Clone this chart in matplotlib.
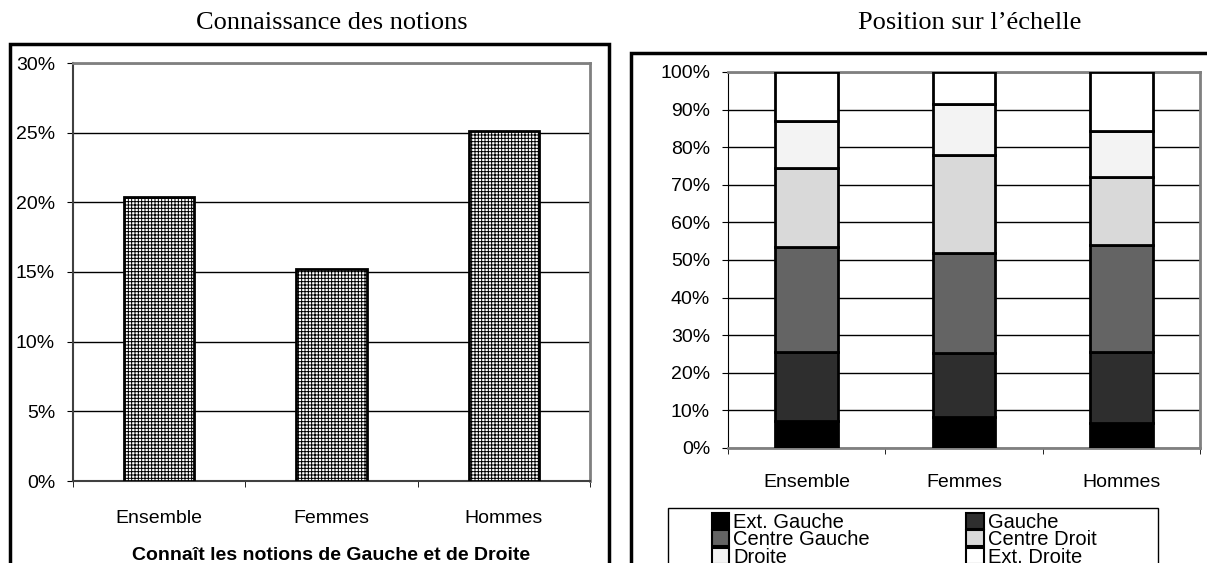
import matplotlib
matplotlib.use("Agg")
import matplotlib.pyplot as plt
from matplotlib.patches import Rectangle, Patch
import numpy as np

W, H = 1207, 563

# --- data ---
categories = ["Ensemble", "Femmes", "Hommes"]
connait = [20.4, 15.2, 25.1]  # % connaissant les notions

seg_labels = ["Ext. Gauche", "Gauche", "Centre Gauche", "Centre Droit", "Droite", "Ext. Droite"]
ext_gauche = [7.1, 8.3, 6.6]
gauche = [18.3, 17.0, 18.9]
centre_gauche = [28.1, 26.6, 28.5]
centre_droit = [21.0, 26.0, 18.1]
droite = [12.5, 13.7, 12.2]
ext_droite = [13.0, 8.4, 15.7]
seg_colors = ["#000000", "#2e2e2e", "#646464", "#d9d9d9", "#f3f3f3", "#ffffff"]

plt.rcParams["font.family"] = ["Liberation Sans", "DejaVu Sans"]
plt.rcParams["hatch.linewidth"] = 0.7

fig = plt.figure(figsize=(W / 100, H / 100), dpi=100)


def fx(px):
    return px / W


def fy(py):
    return 1 - py / H


# outer frames
fig.add_artist(Rectangle((fx(10), -0.1), fx(609) - fx(10), fy(44) + 0.1,
                         transform=fig.transFigure, fill=False, lw=2.5, ec="black"))
fig.add_artist(Rectangle((fx(631), -0.1), 1.1 - fx(631), fy(53) + 0.1,
                         transform=fig.transFigure, fill=False, lw=2.5, ec="black"))

# titles
fig.text(fx(332), fy(23), "Connaissance des notions", family="Liberation Serif",
         fontsize=19, ha="center", va="center")
fig.text(fx(970), fy(23), "Position sur l\u2019échelle", family="Liberation Serif",
         fontsize=19, ha="center", va="center")

x = np.arange(len(categories))

# ---- left chart ----
ax1 = fig.add_axes([fx(73), fy(481), fx(590) - fx(73), fy(63) - fy(481)])
ax1.bar(x, connait, width=0.41, color="white", edgecolor="black", lw=2,
        hatch="+++++", zorder=3)
ax1.set_xlim(-0.5, 2.5)
ax1.set_ylim(0, 30)
ax1.set_yticks(np.arange(0, 31, 5))
ax1.set_yticklabels([f"{v}%" for v in range(0, 31, 5)])
ax1.yaxis.grid(True, color="black", lw=1)
ax1.set_axisbelow(True)
ax1.set_xticks(x)
ax1.set_xticklabels(categories)
ax1.set_xticks([-0.5, 0.5, 1.5, 2.5], minor=True)
ax1.tick_params(axis="x", which="major", length=0, pad=21, labelsize=14)
ax1.tick_params(axis="x", which="minor", length=4.3, direction="out")
ax1.tick_params(axis="y", length=4.3, pad=8.6, labelsize=14)
ax1.set_xlabel("Connaît les notions de Gauche et de Droite", fontsize=14,
               fontweight="bold", labelpad=14)
for s in ["top", "right"]:
    ax1.spines[s].set_color("#808080")
    ax1.spines[s].set_linewidth(2)
ax1.spines["left"].set_color("#404040")
ax1.spines["left"].set_linewidth(1.5)
ax1.spines["bottom"].set_color("#404040")
ax1.spines["bottom"].set_linewidth(1.5)

# ---- right chart ----
ax2 = fig.add_axes([fx(728), fy(448), fx(1200) - fx(728), fy(72) - fy(448)])
series = [ext_gauche, gauche, centre_gauche, centre_droit, droite, ext_droite]
bottom = np.zeros(len(categories))
handles = []
for lab, vals, col in zip(seg_labels, series, seg_colors):
    ax2.bar(x, vals, bottom=bottom, width=0.4, color=col, edgecolor="black",
            lw=2, zorder=3)
    bottom += np.array(vals)
    handles.append(Patch(facecolor=col, edgecolor="black", lw=1.5, label=lab))
ax2.set_xlim(-0.5, 2.5)
ax2.set_ylim(0, 100)
ax2.set_yticks(np.arange(0, 101, 10))
ax2.set_yticklabels([f"{v}%" for v in range(0, 101, 10)])
ax2.yaxis.grid(True, color="black", lw=1)
ax2.set_axisbelow(True)
ax2.set_xticks(x)
ax2.set_xticklabels(categories)
ax2.set_xticks([-0.5, 0.5, 1.5, 2.5], minor=True)
ax2.tick_params(axis="x", which="major", length=0, pad=18.5, labelsize=14)
ax2.tick_params(axis="x", which="minor", length=4.3, direction="out")
ax2.tick_params(axis="y", length=4.3, pad=8.6, labelsize=14)
for s in ["top", "right"]:
    ax2.spines[s].set_color("#808080")
    ax2.spines[s].set_linewidth(2)
ax2.spines["left"].set_color("black")
ax2.spines["bottom"].set_color("#808080")
ax2.spines["bottom"].set_linewidth(2)

# legend box (drawn separately, it runs past the bottom edge)
fig.add_artist(Rectangle((fx(668), -0.1), fx(1158) - fx(668), fy(508) + 0.1,
                         transform=fig.transFigure, fill=False, lw=1, ec="black"))
order = [0, 2, 4, 1, 3, 5]
fig.legend([handles[i] for i in order], [seg_labels[i] for i in order],
           loc="upper left", bbox_to_anchor=(fx(712), fy(513)),
           ncol=2, fontsize=14.5, frameon=False,
           labelspacing=-0.08, handlelength=0.85, handleheight=0.85,
           handletextpad=0.2, borderpad=0, borderaxespad=0,
           columnspacing=4.8)

fig.savefig("out.png", dpi=100)
